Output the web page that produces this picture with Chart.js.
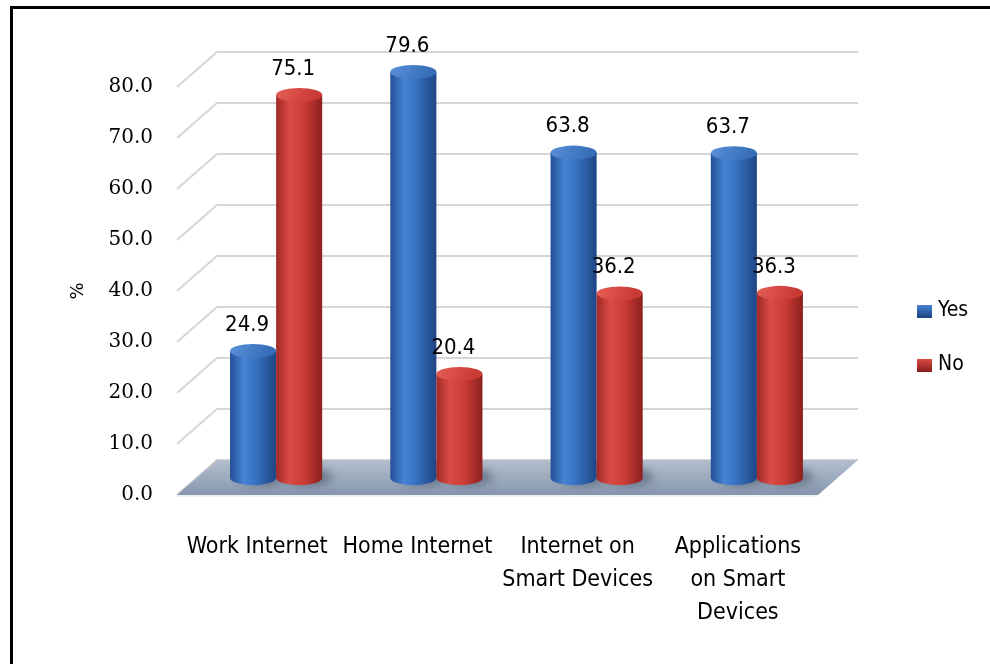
<!DOCTYPE html>
<html>
<head>
<meta charset="utf-8">
<script src="https://cdn.jsdelivr.net/npm/chart.js@4.4.1/dist/chart.umd.min.js"></script>
<style>
  html, body { margin: 0; padding: 0; background: #fff; }
  #wrap { position: relative; width: 990px; height: 664px; }
</style>
</head>
<body>
<div id="wrap"><canvas id="chart" width="990" height="664"></canvas></div>
<script>
const categories = [
  ['Work Internet'],
  ['Home Internet'],
  ['Internet on', 'Smart Devices'],
  ['Applications', 'on Smart', 'Devices']
];
const seriesNames = ['Yes', 'No'];
const yesValues = [24.9, 79.6, 63.8, 63.7];
const noValues = [75.1, 20.4, 36.2, 36.3];
const yMin = 0;
const yMax = 80;
const yStep = 10;
const yTitle = '%';

// 3D look: back wall offset and how far into the depth the cylinders sit
const DEPTH_X = 40, DEPTH_Y = -35;
const BAR_X = 19, BAR_Y = -17;
const CAP_RY = 7;
const NARROW = "'Liberation Sans Narrow', 'DejaVu Sans Condensed', sans-serif";

const palette = {
  Yes: { edge: '#244f96', light: '#4783d4', mid: '#356dbc', dark: '#1f4584', cap1: '#5890da', cap2: '#386eb8', key: '#3a74c4' },
  No: { edge: '#a02826', light: '#dc4c46', mid: '#cc3c36', dark: '#8c201e', cap1: '#e65e57', cap2: '#c93a34', key: '#c8322e' }
};

function drawCylinder(ctx, el, c) {
  const cx = el.x + BAR_X, rx = el.width / 2, ry = CAP_RY;
  const top = el.y + BAR_Y, base = el.base + BAR_Y;

  // soft shadow on the floor
  ctx.save();
  ctx.filter = 'blur(4px)';
  ctx.fillStyle = 'rgba(50,60,80,0.45)';
  ctx.beginPath();
  ctx.ellipse(cx + 10, base - 1, rx, ry + 2, 0, 0, Math.PI * 2);
  ctx.fill();
  ctx.restore();

  const body = ctx.createLinearGradient(cx - rx, 0, cx + rx, 0);
  body.addColorStop(0, c.edge);
  body.addColorStop(0.3, c.light);
  body.addColorStop(0.6, c.mid);
  body.addColorStop(1, c.dark);
  ctx.beginPath();
  ctx.moveTo(cx - rx, top);
  ctx.lineTo(cx - rx, base);
  ctx.ellipse(cx, base, rx, ry, 0, Math.PI, 0, true);
  ctx.lineTo(cx + rx, top);
  ctx.closePath();
  ctx.fillStyle = body;
  ctx.fill();

  const cap = ctx.createLinearGradient(cx - rx, top - ry, cx + rx * 0.6, top + ry);
  cap.addColorStop(0, c.cap1);
  cap.addColorStop(1, c.cap2);
  ctx.beginPath();
  ctx.ellipse(cx, top, rx, ry, 0, 0, Math.PI * 2);
  ctx.fillStyle = cap;
  ctx.fill();
}

const cylinderPlugin = {
  id: 'cylinders',
  beforeDraw(chart) {
    const ctx = chart.ctx;
    ctx.save();
    ctx.fillStyle = '#fff';
    ctx.fillRect(0, 0, chart.width, chart.height);
    ctx.strokeStyle = '#000';
    ctx.lineWidth = 3;
    ctx.beginPath();
    ctx.moveTo(11.5, chart.height);
    ctx.lineTo(11.5, 7.5);
    ctx.lineTo(chart.width, 7.5);
    ctx.stroke();
    ctx.restore();
  },
  beforeDatasetsDraw(chart) {
    const ctx = chart.ctx, area = chart.chartArea, y = chart.scales.y;
    ctx.save();
    // wall gridlines
    ctx.strokeStyle = '#d6d6d6';
    ctx.lineWidth = 2;
    y.ticks.forEach(t => {
      const py = y.getPixelForValue(t.value);
      ctx.beginPath();
      ctx.moveTo(area.left, py);
      ctx.lineTo(area.left + DEPTH_X, py + DEPTH_Y);
      ctx.lineTo(area.right + DEPTH_X, py + DEPTH_Y);
      ctx.stroke();
    });
    // floor
    const y0 = y.getPixelForValue(0);
    const floor = ctx.createLinearGradient(0, y0 + DEPTH_Y, 0, y0);
    floor.addColorStop(0, '#b4bfcd');
    floor.addColorStop(1, '#8596ad');
    ctx.beginPath();
    ctx.moveTo(area.left, y0);
    ctx.lineTo(area.right, y0);
    ctx.lineTo(area.right + DEPTH_X, y0 + DEPTH_Y);
    ctx.lineTo(area.left + DEPTH_X, y0 + DEPTH_Y);
    ctx.closePath();
    ctx.fillStyle = floor;
    ctx.fill();
    ctx.strokeStyle = 'rgba(230,235,242,0.9)';
    ctx.lineWidth = 1.5;
    ctx.beginPath();
    ctx.moveTo(area.left, y0 + 1);
    ctx.lineTo(area.right, y0 + 1);
    ctx.stroke();

    chart.data.datasets.forEach((ds, i) => {
      const meta = chart.getDatasetMeta(i);
      meta.data.forEach(el => drawCylinder(ctx, el, palette[ds.label]));
    });
    ctx.restore();
    return false;
  },
  afterDraw(chart) {
    const ctx = chart.ctx;
    ctx.save();
    // value labels above cylinders
    ctx.fillStyle = '#000';
    ctx.font = '22px ' + NARROW;
    ctx.textAlign = 'center';
    ctx.textBaseline = 'middle';
    chart.data.datasets.forEach((ds, i) => {
      chart.getDatasetMeta(i).data.forEach((el, j) => {
        ctx.fillText(ds.data[j].toFixed(1), el.x + BAR_X - 6, el.y + BAR_Y - 26);
      });
    });
    // legend
    ctx.font = '21px ' + NARROW;
    ctx.textAlign = 'left';
    chart.data.datasets.forEach((ds, i) => {
      const c = palette[ds.label];
      const ly = 311 + i * 54;
      const g = ctx.createLinearGradient(917, ly - 6, 917, ly + 6);
      g.addColorStop(0, c.light);
      g.addColorStop(1, c.dark);
      ctx.fillStyle = g;
      ctx.fillRect(917, ly - 6, 15, 13);
      ctx.fillStyle = '#000';
      ctx.fillText(ds.label, 938, ly);
    });
    ctx.restore();
  }
};

new Chart(document.getElementById('chart'), {
  type: 'bar',
  data: {
    labels: categories,
    datasets: [
      { label: seriesNames[0], data: yesValues, backgroundColor: palette.Yes.key },
      { label: seriesNames[1], data: noValues, backgroundColor: palette.No.key }
    ]
  },
  options: {
    responsive: false,
    animation: false,
    layout: { padding: { left: 60, right: 172, top: 87, bottom: 0 } },
    plugins: { legend: { display: false }, tooltip: { enabled: false } },
    datasets: { bar: { categoryPercentage: 0.575, barPercentage: 1.0 } },
    scales: {
      x: {
        grid: { display: false, drawTicks: false },
        border: { display: false },
        ticks: {
          color: '#000',
          padding: 35,
          autoSkip: false,
          maxRotation: 0,
          font: { family: NARROW, size: 23, lineHeight: 1.45 }
        },
        afterFit(scale) { scale.height = 169; }
      },
      y: {
        min: yMin,
        max: yMax,
        grid: { display: false, drawTicks: false },
        border: { display: false },
        ticks: {
          stepSize: yStep,
          color: '#000',
          padding: 24,
          font: { family: "'DejaVu Serif', serif", size: 20 },
          callback: v => v.toFixed(1)
        },
        title: {
          display: true,
          text: yTitle,
          color: '#000',
          padding: { top: 8, bottom: 0 },
          font: { family: "'DejaVu Sans', sans-serif", size: 18 }
        },
        afterFit(scale) { scale.width = 117; }
      }
    }
  },
  plugins: [cylinderPlugin]
});
</script>
</body>
</html>
